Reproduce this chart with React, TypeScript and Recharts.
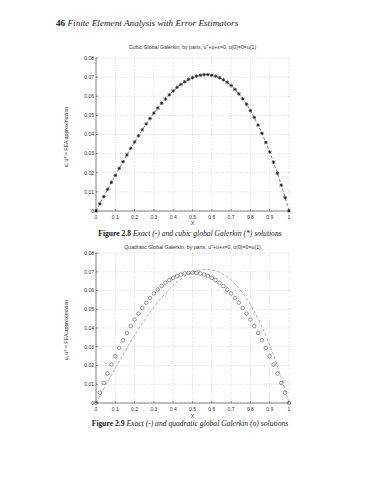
import React from 'react';
import { ComposedChart, Line, XAxis, YAxis, CartesianGrid } from 'recharts';

const xs = [0, 0.02, 0.04, 0.06, 0.08, 0.1, 0.12, 0.14, 0.16, 0.18, 0.2, 0.22, 0.24, 0.26, 0.28, 0.3, 0.32, 0.34, 0.36, 0.38, 0.4, 0.42, 0.44, 0.46, 0.48, 0.5, 0.52, 0.54, 0.56, 0.58, 0.6, 0.62, 0.64, 0.66, 0.68, 0.7, 0.72, 0.74, 0.76, 0.78, 0.8, 0.82, 0.84, 0.86, 0.88, 0.9, 0.92, 0.94, 0.96, 0.98, 1];

const exact = [0, 0.0038, 0.0075, 0.0113, 0.015, 0.0186, 0.0223, 0.0258, 0.0293, 0.0328, 0.0361, 0.0393, 0.0425, 0.0455, 0.0484, 0.0512, 0.0538, 0.0563, 0.0586, 0.0608, 0.0628, 0.0646, 0.0662, 0.0676, 0.0688, 0.0697, 0.0705, 0.071, 0.0713, 0.0713, 0.071, 0.0705, 0.0697, 0.0686, 0.0673, 0.0656, 0.0636, 0.0613, 0.0587, 0.0558, 0.0525, 0.0489, 0.0449, 0.0406, 0.0359, 0.0309, 0.0255, 0.0197, 0.0135, 0.007, 0];

const cubic = [0, 0.0038, 0.0075, 0.0113, 0.015, 0.0186, 0.0223, 0.0258, 0.0293, 0.0328, 0.0361, 0.0393, 0.0425, 0.0455, 0.0484, 0.0512, 0.0538, 0.0563, 0.0586, 0.0608, 0.0628, 0.0646, 0.0662, 0.0676, 0.0688, 0.0697, 0.0705, 0.071, 0.0713, 0.0713, 0.071, 0.0705, 0.0697, 0.0686, 0.0673, 0.0656, 0.0636, 0.0613, 0.0587, 0.0558, 0.0525, 0.0489, 0.0449, 0.0406, 0.0359, 0.0309, 0.0255, 0.0197, 0.0135, 0.007, 0];

const quadratic = [0, 0.0055, 0.0107, 0.0157, 0.0205, 0.025, 0.0294, 0.0335, 0.0374, 0.041, 0.0445, 0.0477, 0.0507, 0.0535, 0.056, 0.0584, 0.0605, 0.0624, 0.0641, 0.0655, 0.0667, 0.0677, 0.0685, 0.0691, 0.0694, 0.0695, 0.0694, 0.0691, 0.0685, 0.0677, 0.0667, 0.0655, 0.0641, 0.0624, 0.0605, 0.0584, 0.056, 0.0535, 0.0507, 0.0477, 0.0445, 0.041, 0.0374, 0.0335, 0.0294, 0.025, 0.0205, 0.0157, 0.0107, 0.0055, 0];

const xTicks = [0, 0.1, 0.2, 0.3, 0.4, 0.5, 0.6, 0.7, 0.8, 0.9, 1];
const xTickLabels = ['0', '0.1', '0.2', '0.3', '0.4', '0.5', '0.6', '0.7', '0.8', '0.9', '1'];
const yTicks = [0, 0.01, 0.02, 0.03, 0.04, 0.05, 0.06, 0.07, 0.08];
const yTickLabels = ['0', '0.01', '0.02', '0.03', '0.04', '0.05', '0.06', '0.07', '0.08'];

const cubicRows = xs.map((x, i) => ({ x, exact: exact[i], fea: cubic[i] }));
const quadRows = xs.map((x, i) => ({ x, exact: exact[i], fea: quadratic[i] }));

const SANS = '"Liberation Sans", Arial, sans-serif';
const SERIF = '"Liberation Serif", "Times New Roman", serif';
const tickStyle = { fontSize: 5, fill: '#333', fontFamily: SANS };

const Star = (props: any) => {
  const { cx, cy } = props;
  if (cx == null || cy == null) return <g />;
  const r = 1.8;
  const d = r * 0.72;
  return (
    <g stroke="#111" strokeWidth={0.7}>
      <line x1={cx - r} y1={cy} x2={cx + r} y2={cy} />
      <line x1={cx} y1={cy - r} x2={cx} y2={cy + r} />
      <line x1={cx - d} y1={cy - d} x2={cx + d} y2={cy + d} />
      <line x1={cx - d} y1={cy + d} x2={cx + d} y2={cy - d} />
    </g>
  );
};

const Ring = (props: any) => {
  const { cx, cy } = props;
  if (cx == null || cy == null) return <g />;
  return <circle cx={cx} cy={cy} r={1.8} fill="none" stroke="#444" strokeWidth={0.55} />;
};

function Plot({ rows, marker, top, bottom, lineColor }: any) {
  return (
    <ComposedChart
      width={370}
      height={240}
      data={rows}
      margin={{ top, right: 81, bottom, left: 66 }}
    >
      <CartesianGrid stroke="#aaa" strokeWidth={0.5} strokeDasharray="0.8 1.6" />
      <XAxis
        dataKey="x"
        type="number"
        domain={[0, 1]}
        ticks={xTicks}
        tickFormatter={(v: number) => xTickLabels[xTicks.indexOf(v)] ?? String(v)}
        tick={tickStyle}
        tickSize={-2}
        tickMargin={6}
        height={20}
        stroke="#333"
        axisLine={{ stroke: '#333', strokeWidth: 0.6 }}
        tickLine={{ stroke: '#333', strokeWidth: 0.5 }}
        interval={0}
      />
      <XAxis xAxisId="top" orientation="top" type="number" domain={[0, 1]} ticks={xTicks} tick={false} tickSize={-2} height={0} axisLine={{ stroke: '#333', strokeWidth: 0.6 }} tickLine={{ stroke: '#333', strokeWidth: 0.5 }} />
      <YAxis
        type="number"
        domain={[0, 0.08]}
        ticks={yTicks}
        tickFormatter={(v: number) => yTickLabels[yTicks.indexOf(v)] ?? String(v)}
        tick={tickStyle}
        tickSize={-2}
        tickMargin={4}
        width={30}
        axisLine={{ stroke: '#333', strokeWidth: 0.6 }}
        tickLine={{ stroke: '#333', strokeWidth: 0.5 }}
        interval={0}
      />
      <YAxis yAxisId="right" orientation="right" type="number" domain={[0, 0.08]} ticks={yTicks} tick={false} tickSize={-2} width={0} axisLine={{ stroke: '#333', strokeWidth: 0.6 }} tickLine={{ stroke: '#333', strokeWidth: 0.5 }} />
      <Line
        dataKey="exact"
        type="linear"
        stroke={lineColor}
        strokeWidth={0.6}
        strokeDasharray="3 2"
        dot={false}
        isAnimationActive={false}
      />
      <Line
        dataKey="fea"
        type="linear"
        stroke="none"
        dot={marker}
        activeDot={false}
        isAnimationActive={false}
      />
    </ComposedChart>
  );
}

const abs = (top: number, extra: React.CSSProperties = {}): React.CSSProperties => ({
  position: 'absolute',
  top,
  ...extra,
});

export default function App() {
  return (
    <div style={{ position: 'fixed', top: 0, left: 0, width: 370, height: 480, background: '#fff', overflow: 'hidden' }}>
      <div style={abs(18, { left: 56, fontFamily: SERIF, fontSize: 9.2, color: '#222', whiteSpace: 'nowrap' })}>
        <b>46</b> <i>Finite Element Analysis with Error Estimators</i>
      </div>

      <div style={abs(0, { left: 0 })}>
        <Plot rows={cubicRows} marker={<Star />} top={58} bottom={9} lineColor="#333" />
      </div>
      <div style={abs(44, { left: 96, width: 193, textAlign: 'center', fontFamily: SANS, fontSize: 5.2, color: '#333', whiteSpace: 'nowrap' })}>
        Cubic Global Galerkin, by parts, u''+u+x=0, u(0)=0=u(1)
      </div>
      <div style={abs(220, { left: 96, width: 193, textAlign: 'center', fontFamily: SANS, fontSize: 5.5, lineHeight: '6px', color: '#333' })}>X</div>
      <div style={abs(137, { left: 66, transform: 'translate(-50%, -50%) rotate(-90deg)', fontFamily: SANS, fontSize: 5.2, color: '#333', whiteSpace: 'nowrap' })}>
        u, u* = FEA approximation
      </div>
      <div style={abs(229, { left: 0, width: 380, textAlign: 'center', fontFamily: SERIF, fontSize: 7.6, color: '#222', whiteSpace: 'nowrap' })}>
        <b>Figure 2.8</b> <i>Exact (-) and cubic global Galerkin (*) solutions</i>
      </div>

      <div style={abs(240, { left: 0 })}>
        <Plot rows={quadRows} marker={<Ring />} top={13} bottom={57} lineColor="#777" />
      </div>
      <div style={abs(244, { left: 96, width: 193, textAlign: 'center', fontFamily: SANS, fontSize: 5.2, color: '#333', whiteSpace: 'nowrap' })}>
        Quadratic Global Galerkin, by parts, u''+u+x=0, u(0)=0=u(1)
      </div>
      <div style={abs(413, { left: 96, width: 193, textAlign: 'center', fontFamily: SANS, fontSize: 5.5, lineHeight: '6px', color: '#333' })}>X</div>
      <div style={abs(330, { left: 66, transform: 'translate(-50%, -50%) rotate(-90deg)', fontFamily: SANS, fontSize: 5.2, color: '#333', whiteSpace: 'nowrap' })}>
        u, u* = FEA approximation
      </div>
      <div style={abs(419, { left: 0, width: 380, textAlign: 'center', fontFamily: SERIF, fontSize: 7.6, color: '#222', whiteSpace: 'nowrap' })}>
        <b>Figure 2.9</b> <i>Exact (-) and quadratic global Galerkin (o) solutions</i>
      </div>
    </div>
  );
}
